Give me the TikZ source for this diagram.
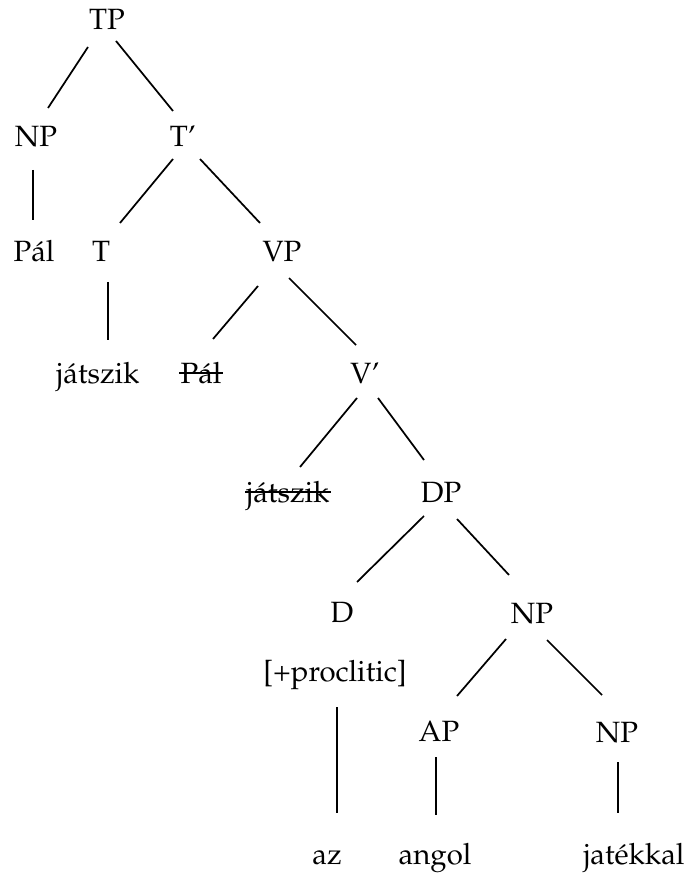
\documentclass[tikz,border=0pt]{standalone}
\usepackage[T1]{fontenc}
\usepackage{mathpazo}
\begin{document}
\begin{tikzpicture}[x=0.75pt,y=-0.75pt,
  lab/.style={anchor=base,inner sep=0pt,font=\fontsize{22}{26}\selectfont},
  br/.style={line width=1.3pt},
  strike/.style={line width=1.1pt}]
\useasboundingbox (0,0) rectangle (693,873);
% nodes
\node[lab] (TP)  at (107,30)  {TP};
\node[lab] (NPa) at (36,147)  {NP};
\node[lab] (Tb)  at (183,147) {T\textquoteright};
\node[lab] (Pa)  at (34,262)  {P\'al};
\node[lab] (T)   at (101,262) {T};
\node[lab] (VP)  at (282,262) {VP};
\node[lab] (ja)  at (98,383)  {j\'atszik};
\node[lab] (Pb)  at (201,383) {P\'al};
\node[lab] (Vb)  at (365,383) {V\textquoteright};
\node[lab] (jb)  at (288,502) {j\'atszik};
\node[lab] (DP)  at (441,502) {DP};
\node[lab] (D)   at (342,622) {D};
\node[lab] (NPb) at (532,623) {NP};
\node[lab] (prc) at (335,681) {[+proclitic]};
\node[lab] (AP)  at (439,741) {AP};
\node[lab] (NPc) at (617,742) {NP};
\node[lab] (az)  at (327,864) {az};
\node[lab] (ang) at (435,864) {angol};
\node[lab] (jat) at (634,864) {jat\'ekkal};
% strike-throughs
\draw[strike] ([shift={(-1,-10)}]Pb.base west) -- ([shift={(1,-10)}]Pb.base east);
\draw[strike] ([shift={(-1,-10)}]jb.base west) -- ([shift={(1,-10)}]jb.base east);
% branches
\draw[br] ([shift={(-19,17)}]TP.base) -- ([shift={(12,-39)}]NPa.base);
\draw[br] ([shift={(9,11)}]TP.base) -- ([shift={(-10,-36)}]Tb.base);
\draw[br] ([shift={(-3,23)}]NPa.base) -- ([shift={(-1,-42)}]Pa.base);
\draw[br] ([shift={(-10,12)}]Tb.base) -- ([shift={(19,-39)}]T.base);
\draw[br] ([shift={(17,12)}]Tb.base) -- ([shift={(-22,-39)}]VP.base);
\draw[br] ([shift={(7,20)}]T.base) -- ([shift={(10,-43)}]ja.base);
\draw[br] ([shift={(-24,24)}]VP.base) -- ([shift={(12,-44)}]Pb.base);
\draw[br] ([shift={(7,16)}]VP.base) -- ([shift={(-9,-38)}]Vb.base);
\draw[br] ([shift={(-8,15)}]Vb.base) -- ([shift={(12,-35)}]jb.base);
\draw[br] ([shift={(13,15)}]Vb.base) -- ([shift={(-17,-42)}]DP.base);
\draw[br] ([shift={(-17,14)}]DP.base) -- ([shift={(15,-40)}]D.base);
\draw[br] ([shift={(16,17)}]DP.base) -- ([shift={(-23,-48)}]NPb.base);
\draw[br] ([shift={(2,26)}]prc.base) -- ([shift={(10,-51)}]az.base);
\draw[br] ([shift={(-26,16)}]NPb.base) -- ([shift={(18,-45)}]AP.base);
\draw[br] ([shift={(15,17)}]NPb.base) -- ([shift={(-15,-47)}]NPc.base);
\draw[br] ([shift={(-3,16)}]AP.base) -- ([shift={(1,-49)}]ang.base);
\draw[br] ([shift={(1,20)}]NPc.base) -- ([shift={(-16,-51)}]jat.base);
\end{tikzpicture}
\end{document}
